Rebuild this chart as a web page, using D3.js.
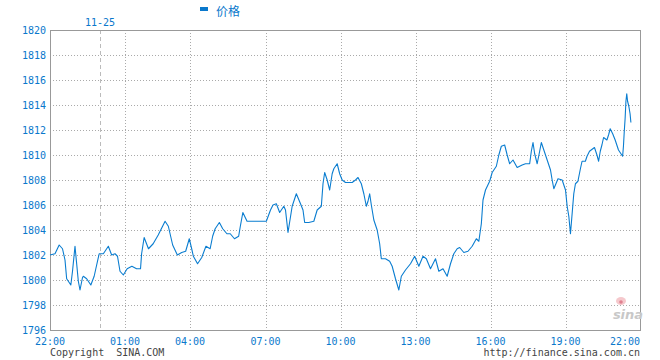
<!DOCTYPE html>
<html><head><meta charset="utf-8">
<script src="https://cdn.jsdelivr.net/npm/d3@7/dist/d3.min.js"></script>
<style>
html,body{margin:0;padding:0;background:#fff;}
svg{display:block;}
</style>
</head><body>
<svg id="chart" width="660" height="360"></svg>
<script>
// ---- data ----
const seriesName = "价格";
const dateLabel = "11-25";
// minutes since 22:00 (previous day)
const minutes = [0,12,22,30,36,40,50,54,60,64,68,72,78,80,88,98,106,110,118,128,140,148,156,162,168,176,186,199,212,223,226,233,245,258,272,291,300,312,325,337,348,358,364,368,378,388,398,408,414,420,430,438,448,456,466,476,480,486,496,542,552,558,566,574,584,588,594,604,614,624,630,634,644,656,664,674,678,682,688,694,700,704,712,718,724,732,748,756,762,770,776,782,786,790,794,800,808,814,818,828,838,844,852,860,866,876,888,898,908,918,926,936,948,956,966,976,984,992,1000,1006,1016,1026,1036,1046,1052,1058,1062,1068,1078,1084,1094,1100,1106,1114,1120,1126,1134,1144,1156,1164,1174,1178,1182,1186,1192,1198,1202,1208,1216,1224,1228,1232,1242,1252,1260,1264,1268,1272,1276,1280,1284,1290,1296,1300,1308,1312,1318,1330,1336,1340,1344,1348,1352,1360,1364,1368,1374,1380,1388,1398,1400,1402,1404,1406,1408,1410,1413,1416,1418];
const prices = [1802.0,1802.1,1802.8,1802.5,1801.6,1800.1,1799.6,1800.7,1802.7,1801.3,1799.9,1799.2,1800.2,1800.3,1800.1,1799.6,1800.3,1800.9,1802.1,1802.1,1802.7,1802.0,1802.1,1801.9,1800.7,1800.4,1800.9,1801.1,1800.9,1800.9,1802.1,1803.4,1802.5,1802.9,1803.6,1804.7,1804.3,1802.8,1802.0,1802.2,1802.3,1803.3,1802.5,1801.9,1801.3,1801.8,1802.7,1802.5,1803.5,1804.1,1804.6,1804.1,1803.7,1803.7,1803.3,1803.5,1804.3,1805.4,1804.7,1804.7,1805.6,1806.0,1806.1,1805.4,1805.9,1805.6,1803.8,1805.9,1806.9,1806.1,1805.6,1804.6,1804.6,1804.7,1805.6,1805.9,1807.7,1808.6,1808.0,1807.2,1808.5,1808.9,1809.3,1808.5,1808.0,1807.8,1807.8,1808.0,1808.2,1807.7,1806.9,1805.9,1806.3,1806.9,1806.0,1804.8,1804.0,1802.9,1801.7,1801.7,1801.5,1801.1,1800.1,1799.2,1800.3,1800.8,1801.3,1801.9,1801.1,1801.9,1801.7,1800.9,1801.7,1800.7,1800.9,1800.3,1801.3,1802.1,1802.5,1802.6,1802.2,1802.3,1802.7,1803.3,1803.1,1804.5,1806.4,1807.2,1807.9,1808.6,1809.1,1810.0,1810.7,1810.8,1810.0,1809.3,1809.6,1809.0,1809.2,1809.3,1809.3,1810.3,1811.0,1810.1,1809.3,1810.3,1811.0,1810.4,1809.6,1808.8,1808.0,1807.3,1808.1,1808.0,1807.2,1805.9,1805.1,1803.7,1805.3,1806.9,1807.7,1807.9,1808.9,1809.5,1809.5,1809.9,1810.3,1810.6,1810.0,1809.5,1810.3,1810.8,1811.4,1811.2,1811.6,1812.1,1811.7,1811.2,1810.4,1809.9,1810.7,1811.9,1812.9,1814.3,1814.9,1814.3,1813.9,1813.3,1812.6];
const xTickLabels = ["22:00","01:00","04:00","07:00","10:00","13:00","16:00","19:00","22:00"];
const xTickMinutes = [0,180,360,540,720,900,1080,1260,1440];
const yTicks = [1796,1798,1800,1802,1804,1806,1808,1810,1812,1814,1816,1818,1820];
const dateMinute = 120;

// ---- layout ----
const L = 50, R = 640, T = 30, B = 330;
const xRangeStops = [50,125,190,265.5,340.5,415.5,490.5,565.5,640];
const svg = d3.select("#chart");
const x = d3.scaleLinear().domain(xTickMinutes).range(xRangeStops);
const y = d3.scaleLinear().domain([1796,1820]).range([B, T]);
const mono = "'DejaVu Sans Mono', 'Liberation Mono', monospace";
const blue = "#0a78cc";

// grid
const grid = svg.append("g").attr("shape-rendering","crispEdges");
grid.selectAll("line.h").data(yTicks.slice(1,-1)).enter().append("line")
  .attr("x1",L).attr("x2",R).attr("y1",d=>Math.round(y(d))+0.5).attr("y2",d=>Math.round(y(d))+0.5)
  .attr("stroke","#aaa").attr("stroke-dasharray","1,2");
grid.selectAll("line.v").data(xTickMinutes.slice(1,-1)).enter().append("line")
  .attr("y1",T).attr("y2",B).attr("x1",d=>Math.round(x(d))+0.5).attr("x2",d=>Math.round(x(d))+0.5)
  .attr("stroke","#aaa").attr("stroke-dasharray","1,2");
grid.append("line").attr("x1",Math.round(x(dateMinute))+0.5).attr("x2",Math.round(x(dateMinute))+0.5)
  .attr("y1",T).attr("y2",B).attr("stroke","#bbb").attr("stroke-dasharray","4,3");

// frame
svg.append("rect").attr("x",L+0.5).attr("y",T+0.5).attr("width",R-L).attr("height",B-T)
  .attr("fill","none").attr("stroke","#999").attr("shape-rendering","crispEdges");

// sina watermark
const wm = svg.append("g");
wm.append("ellipse").attr("cx",621).attr("cy",301).attr("rx",5).attr("ry",4).attr("fill","#f5c8cc");
wm.append("circle").attr("cx",621).attr("cy",302).attr("r",1.8).attr("fill","#e08090");
wm.append("text").attr("x",628).attr("y",319).attr("text-anchor","middle")
  .attr("font-family","'DejaVu Sans', sans-serif").attr("font-size",13).attr("font-weight","bold")
  .attr("font-style","italic").attr("fill","#c8c8c8").text("sina");

// line
const line = d3.line().x((d,i)=>x(minutes[i])).y(d=>y(d));
svg.append("path").datum(prices).attr("d",line).attr("fill","none")
  .attr("stroke","#0a7dd0").attr("stroke-width",1.1).attr("stroke-linejoin","round");

// y labels
svg.append("g").selectAll("text").data(yTicks).enter().append("text")
  .attr("x",46).attr("y",d=>y(d)+3.5).attr("text-anchor","end")
  .attr("font-family",mono).attr("font-size",10).attr("fill",blue).text(d=>d);

// x labels
svg.append("g").selectAll("text").data(xTickLabels).enter().append("text")
  .attr("x",(d,i)=> i===xTickLabels.length-1 ? R : x(xTickMinutes[i]))
  .attr("y",345).attr("text-anchor",(d,i)=> i===xTickLabels.length-1 ? "end" : "middle")
  .attr("font-family",mono).attr("font-size",10).attr("fill",blue).text(d=>d);

// date label
svg.append("text").attr("x",x(dateMinute)).attr("y",26).attr("text-anchor","middle")
  .attr("font-family",mono).attr("font-size",10).attr("fill",blue).text(dateLabel);

// legend
svg.append("rect").attr("x",200).attr("y",7).attr("width",8).attr("height",4).attr("fill",blue);
svg.append("text").attr("x",216).attr("y",15.5)
  .attr("font-family","'Noto Sans CJK SC', sans-serif").attr("font-size",12).attr("fill",blue).text(seriesName);

// footer
svg.append("text").attr("x",50).attr("y",356).attr("font-family",mono).attr("font-size",10)
  .attr("fill","#444").attr("xml:space","preserve").style("white-space","pre").text("Copyright  SINA.COM");
svg.append("text").attr("x",640).attr("y",356).attr("text-anchor","end").attr("font-family",mono).attr("font-size",10)
  .attr("fill","#444").text("http://finance.sina.com.cn");
</script>
</body></html>
